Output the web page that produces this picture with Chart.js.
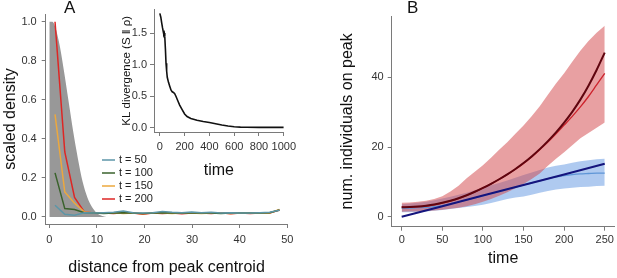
<!DOCTYPE html>
<html>
<head>
<meta charset="utf-8">
<script src="https://cdn.jsdelivr.net/npm/chart.js@4.4.1/dist/chart.umd.min.js"></script>
<style>
  body { margin: 0; background: #fff; }
  #wrap { position: relative; width: 617px; height: 278px; font-family: "Liberation Sans", Arial, sans-serif; }
  canvas { position: absolute; }
  .panel { position: absolute; font-size: 17px; color: #111; line-height: 1; }
</style>
</head>
<body>
<div id="wrap">
  <canvas id="mainA" width="300" height="278" style="left:0;top:0"></canvas>
  <canvas id="inset" width="188" height="182" style="left:112px;top:0"></canvas>
  <canvas id="panelB" width="307" height="278" style="left:310px;top:0"></canvas>
  <div class="panel" style="left:64px;top:-1px">A</div>
  <div class="panel" style="left:407px;top:-1px">B</div>
</div>
<script>
// ---- panel A: scaled density vs distance from peak centroid ----
let distX = [1.2, 3.25, 5.3, 7.35, 9.4, 11.45, 13.5, 15.55, 17.6, 19.65, 21.7, 23.75,
  25.8, 27.85, 29.9, 31.95, 34.0, 36.05, 38.1, 40.15, 42.2, 44.25, 46.3, 48.35];
let dens50 = [0.06, 0.014, 0.009, 0.022, 0.02, 0.022, 0.024, 0.03, 0.022, 0.02, 0.022, 0.028,
  0.024, 0.022, 0.026, 0.022, 0.024, 0.02, 0.022, 0.02, 0.021, 0.022, 0.024, 0.035];
let dens100 = [0.226, 0.043, 0.038, 0.022, 0.02, 0.018, 0.02, 0.022, 0.02, 0.018, 0.02, 0.022,
  0.02, 0.02, 0.022, 0.02, 0.02, 0.018, 0.02, 0.02, 0.02, 0.02, 0.022, 0.036];
let dens150 = [0.526, 0.128, 0.07, 0.026, 0.02, 0.02, 0.022, 0.018, 0.02, 0.017, 0.02, 0.02,
  0.018, 0.02, 0.02, 0.018, 0.02, 0.02, 0.018, 0.02, 0.02, 0.019, 0.02, 0.038];
let dens200 = [1.0, 0.333, 0.1, 0.026, 0.02, 0.02, 0.018, 0.022, 0.02, 0.014, 0.02, 0.018,
  0.02, 0.016, 0.02, 0.02, 0.018, 0.022, 0.016, 0.02, 0.018, 0.02, 0.02, 0.036];
let grayX = [0, 0.5, 1, 2, 3, 4, 5, 6, 7, 8, 9, 10, 11, 12];
let grayY = [1.0, 1.0, 0.99, 0.9, 0.76, 0.6, 0.44, 0.3, 0.18, 0.1, 0.05, 0.02, 0.006, 0];
let seriesLabels = ['t = 50', 't = 100', 't = 150', 't = 200'];
let seriesColors = ['rgb(92,150,168)', 'rgb(58,98,44)', 'rgb(236,168,62)', 'rgb(222,38,36)'];

// ---- inset: KL divergence over time ----
let klT = [0, 8, 15, 22, 28, 32, 36, 40, 45, 50, 55, 60, 70, 80, 90, 100, 110, 120, 130, 145,
  160, 180, 200, 220, 250, 300, 350, 400, 450, 500, 550, 600, 650, 700, 800, 900, 1000];
let klV = [1.81, 1.75, 1.66, 1.58, 1.52, 1.48, 1.5, 1.44, 1.25, 1.02, 0.9, 0.8, 0.72, 0.66, 0.6,
  0.57, 0.56, 0.54, 0.5, 0.43, 0.36, 0.29, 0.22, 0.18, 0.15, 0.12, 0.1, 0.085, 0.065, 0.045,
  0.03, 0.018, 0.012, 0.01, 0.008, 0.008, 0.008];

// ---- panel B: individuals on peak over time ----
let timeB = [0, 10, 20, 30, 40, 50, 60, 70, 80, 90, 100, 110, 120, 130, 140, 150, 160, 170,
  180, 190, 200, 210, 220, 230, 240, 250];
let redUpper = [4.0, 4.1, 4.3, 4.6, 5.1, 5.9, 7.2, 8.9, 11.0, 12.9, 14.8, 16.9, 19.2, 21.4,
  23.8, 26.2, 28.8, 31.7, 35.0, 38.2, 41.2, 44.5, 47.6, 50.4, 52.8, 54.8];
let redLower = [1.4, 1.5, 1.5, 1.6, 1.8, 2.0, 2.3, 2.6, 3.0, 3.6, 4.3, 5.1, 6.0, 7.0, 8.2, 9.4,
  10.8, 12.4, 14.6, 16.6, 18.5, 20.5, 22.5, 24.0, 25.5, 27.0];
let redMean = [2.8, 2.7, 2.8, 3.0, 3.4, 3.9, 4.5, 5.2, 6.1, 7.1, 8.2, 9.4, 10.7, 12.1, 13.6,
  15.3, 17.1, 19.2, 21.4, 23.8, 26.3, 28.8, 31.5, 34.5, 37.8, 41.1];
let redTheory = [2.7, 2.75, 2.9, 3.15, 3.5, 4.0, 4.6, 5.3, 6.15, 7.15, 8.25, 9.45, 10.75, 12.15,
  13.7, 15.4, 17.3, 19.4, 21.7, 24.2, 27.0, 30.1, 33.6, 37.6, 42.1, 47.1];
let blueUpper = [3.6, 3.8, 4.0, 4.3, 4.7, 5.2, 5.7, 6.3, 6.9, 7.6, 8.3, 9.0, 9.7, 10.4, 11.2,
  12.0, 12.7, 13.4, 14.1, 14.6, 15.0, 15.5, 15.9, 16.2, 16.5, 16.6];
let blueLower = [1.3, 1.3, 1.4, 1.5, 1.7, 1.9, 2.2, 2.5, 2.8, 3.1, 3.4, 3.9, 4.5, 5.1, 5.5, 5.8,
  6.3, 6.9, 7.4, 7.8, 8.1, 8.3, 8.5, 8.6, 8.8, 8.9];
let blueMean = [2.5, 2.5, 2.6, 2.7, 2.9, 3.2, 3.7, 4.2, 4.8, 5.4, 6.0, 6.6, 7.2, 7.9, 8.5, 9.1,
  9.7, 10.3, 10.9, 11.4, 11.8, 12.1, 12.3, 12.4, 12.5, 12.5];
let lineTimeB = [0, 50, 100, 150, 200, 250];
let blueTheory = [0, 3.0, 6.1, 9.1, 12.1, 15.2];

const font = 'Liberation Sans, Arial, sans-serif';
const axisGray = '#7a7a7a';
const tickText = '#333';

function pts(xs, ys) {
  return xs.map((x, i) => ({ x: x, y: ys[i] }));
}

function axis(opts) {
  return {
    type: 'linear',
    min: opts.min,
    max: opts.max,
    border: { display: true, color: axisGray, width: 1 },
    grid: { drawOnChartArea: false, drawTicks: true, tickLength: 4, color: axisGray },
    ticks: {
      stepSize: opts.step,
      includeBounds: false,
      padding: opts.tickPad,
      color: tickText,
      font: { family: font, size: 11 },
      maxRotation: 0,
      autoSkip: false,
      callback: opts.fmt
    },
    title: {
      display: true,
      text: opts.title,
      color: '#111',
      font: { family: font, size: opts.titleSize || 16 },
      padding: opts.titlePad
    },
    afterFit: opts.fit
  };
}

// legend of panel A, drawn inside the plot
const legendA = {
  id: 'legendA',
  afterDraw(chart) {
    const ctx = chart.ctx;
    ctx.save();
    ctx.font = '11px ' + font;
    ctx.textBaseline = 'middle';
    ctx.textAlign = 'left';
    const rows = [160, 173, 186, 199];
    seriesLabels.forEach((lab, i) => {
      ctx.strokeStyle = seriesColors[i];
      ctx.lineWidth = 1.5;
      ctx.beginPath();
      ctx.moveTo(102, rows[i]);
      ctx.lineTo(115, rows[i]);
      ctx.stroke();
      ctx.fillStyle = '#222';
      ctx.fillText(lab, 119, rows[i]);
    });
    ctx.restore();
  }
};

const densSets = [dens50, dens100, dens150, dens200];
const datasetsA = densSets.map((d, i) => ({
  label: seriesLabels[i],
  data: pts(distX, d),
  borderColor: seriesColors[i],
  borderWidth: 1.5,
  pointRadius: 0,
  fill: false,
  tension: 0
}));
datasetsA.push({
  label: 'theory',
  data: pts(grayX, grayY),
  borderColor: 'rgba(0,0,0,0)',
  borderWidth: 0,
  backgroundColor: 'rgb(152,152,152)',
  pointRadius: 0,
  fill: 'origin',
  cubicInterpolationMode: 'monotone'
});

new Chart(document.getElementById('mainA'), {
  type: 'line',
  data: { datasets: datasetsA },
  options: {
    responsive: false,
    animation: false,
    devicePixelRatio: 1,
    layout: { padding: { left: 0, right: 12.7, top: 14, bottom: 0 } },
    plugins: { legend: { display: false }, tooltip: { enabled: false } },
    scales: {
      x: axis({ min: -0.76, max: 50, step: 10, tickPad: 5, title: 'distance from peak centroid',
        titlePad: { top: 0, bottom: 1 }, fit: s => { s.height = 54; } }),
      y: axis({ min: -0.036, max: 1.04, step: 0.2, tickPad: 5, title: 'scaled density',
        titlePad: { top: 1, bottom: 0 }, fmt: v => v.toFixed(1), fit: s => { s.width = 45.7; } })
    }
  },
  plugins: [legendA]
});

new Chart(document.getElementById('inset'), {
  type: 'line',
  data: {
    datasets: [{
      label: 'KL',
      data: pts(klT, klV),
      borderColor: '#111',
      borderWidth: 1.6,
      pointRadius: 0,
      fill: false
    }]
  },
  options: {
    responsive: false,
    animation: false,
    devicePixelRatio: 1,
    layout: { padding: { left: 0, right: 11.7, top: 3, bottom: 0 } },
    plugins: { legend: { display: false }, tooltip: { enabled: false } },
    scales: {
      x: axis({ min: -47, max: 1000, step: 200, tickPad: 4, title: 'time',
        titlePad: { top: 0, bottom: 2 }, fit: s => { s.height = 50; } }),
      y: axis({ min: -0.065, max: 1.87, step: 0.5, tickPad: 3, title: 'KL divergence (S \u2016 \u03C1)',
        titleSize: 11.5, titlePad: { top: 8, bottom: 0 }, fmt: v => v.toFixed(1),
        fit: s => { s.width = 42; } })
    }
  }
});

const smooth = 'monotone';
new Chart(document.getElementById('panelB'), {
  type: 'line',
  data: {
    datasets: [
      // drawn last-to-first: lines on top, bands underneath
      { label: 'red theory', data: pts(timeB, redTheory), borderColor: 'rgb(95,5,15)',
        borderWidth: 2, pointRadius: 0, fill: false, cubicInterpolationMode: smooth },
      { label: 'blue theory', data: pts(lineTimeB, blueTheory), borderColor: 'rgb(20,20,125)',
        borderWidth: 2, pointRadius: 0, fill: false },
      { label: 'red mean', data: pts(timeB, redMean), borderColor: 'rgb(205,35,45)',
        borderWidth: 1.3, pointRadius: 0, fill: false, cubicInterpolationMode: smooth },
      { label: 'blue mean', data: pts(timeB, blueMean), borderColor: 'rgb(95,150,215)',
        borderWidth: 1.3, pointRadius: 0, fill: false, cubicInterpolationMode: smooth },
      { label: 'red upper', data: pts(timeB, redUpper), borderWidth: 0, borderColor: 'rgba(0,0,0,0)',
        backgroundColor: 'rgba(210,65,70,0.5)', pointRadius: 0, fill: '+1' },
      { label: 'red lower', data: pts(timeB, redLower), borderWidth: 0, borderColor: 'rgba(0,0,0,0)',
        pointRadius: 0, fill: false },
      { label: 'blue upper', data: pts(timeB, blueUpper), borderWidth: 0, borderColor: 'rgba(0,0,0,0)',
        backgroundColor: 'rgba(95,150,225,0.5)', pointRadius: 0, fill: '+1' },
      { label: 'blue lower', data: pts(timeB, blueLower), borderWidth: 0, borderColor: 'rgba(0,0,0,0)',
        pointRadius: 0, fill: false }
    ]
  },
  options: {
    responsive: false,
    animation: false,
    devicePixelRatio: 1,
    layout: { padding: { left: 0, right: 2, top: 16, bottom: 0 } },
    plugins: { legend: { display: false }, tooltip: { enabled: false }, filler: { propagate: false } },
    scales: {
      x: axis({ min: -12.3, max: 262.3, step: 50, tickPad: 3, title: 'time',
        titlePad: { top: 0, bottom: 10 }, fit: s => { s.height = 51.3; } }),
      y: axis({ min: -2.87, max: 57.6, step: 20, tickPad: 4, title: 'num. individuals on peak',
        titlePad: { top: 28, bottom: 0 }, fit: s => { s.width = 81.7; } })
    }
  }
});
</script>
</body>
</html>
